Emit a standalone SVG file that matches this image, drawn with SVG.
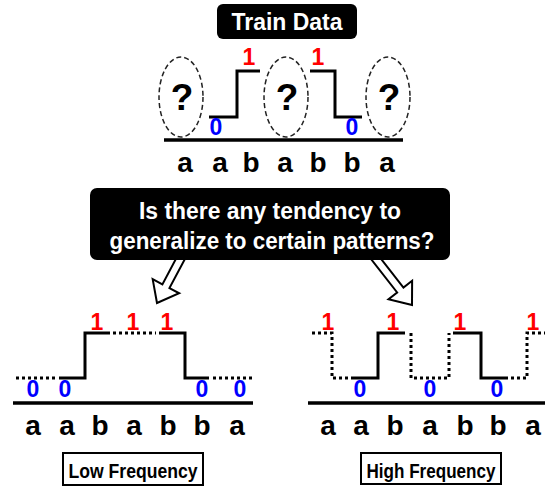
<svg xmlns="http://www.w3.org/2000/svg" width="545" height="486" viewBox="0 0 545 486">
<style>
.bg{fill:#fff}
.bx{fill:#000}
.wt{fill:#fff;font-family:"Liberation Sans",Arial,sans-serif;font-weight:bold;text-anchor:middle}
.lt{fill:#000;font-family:"Liberation Sans",Arial,sans-serif;font-weight:bold;text-anchor:middle;font-size:28px}
.one{fill:#ff0000;font-family:"Liberation Sans",Arial,sans-serif;font-weight:bold;text-anchor:middle;font-size:23px}
.zero{fill:#0000ff;font-family:"Liberation Sans",Arial,sans-serif;font-weight:bold;text-anchor:middle;font-size:23px}
.q{fill:#000;font-family:"Liberation Sans",Arial,sans-serif;font-weight:bold;text-anchor:middle;font-size:37px}
.base{stroke:#000;stroke-width:3.5;fill:none}
.sol{stroke:#000;stroke-width:3;fill:none;stroke-linejoin:miter}
.dot{stroke:#000;stroke-width:3;fill:none;stroke-dasharray:3 3}
.ell{stroke:#222;stroke-width:1.5;fill:none;stroke-dasharray:5 3}
.arr{fill:#fff;stroke:#000;stroke-width:2;stroke-linejoin:miter}
.lb{fill:#fff;stroke:#000;stroke-width:2}
.lbt{fill:#000;font-family:"Liberation Sans",Arial,sans-serif;font-weight:bold;text-anchor:middle;font-size:21px}
</style>
<rect class="bg" x="0" y="0" width="545" height="486"/>

<g id="connectors">
  <polygon class="arr" transform="translate(157,303) rotate(28)" points="0,0 -15,-19 -4,-19 -4,-62 4,-62 4,-19 15,-19"/>
  <polygon class="arr" transform="translate(412,305) rotate(-38)" points="0,0 -15,-19 -4,-19 -4,-68 4,-68 4,-19 15,-19"/>
</g>

<g id="train-data">
  <rect class="bx" x="217" y="4" width="140" height="35" rx="6"/>
  <text class="wt" x="287" y="30" font-size="23" textLength="111" lengthAdjust="spacingAndGlyphs">Train Data</text>
</g>

<g id="top-wave">
  <ellipse class="ell" cx="181" cy="97" rx="22" ry="40"/>
  <ellipse class="ell" cx="286" cy="97" rx="22" ry="40"/>
  <ellipse class="ell" cx="388" cy="97" rx="22" ry="40"/>
  <text class="q" x="182" y="110">?</text>
  <text class="q" x="287" y="110">?</text>
  <text class="q" x="389" y="110">?</text>
  <path class="sol" d="M209,117 H237 V71 H260"/>
  <path class="sol" d="M310,71 H335 V117 H362"/>
  <text class="one" x="249" y="65">1</text>
  <text class="one" x="318" y="65">1</text>
  <text class="zero" x="216" y="135">0</text>
  <text class="zero" x="352" y="135">0</text>
  <line class="base" x1="164" y1="140" x2="403" y2="140"/>
  <text class="lt" x="185" y="172">a</text>
  <text class="lt" x="220" y="172">a</text>
  <text class="lt" x="251" y="172">b</text>
  <text class="lt" x="285" y="172">a</text>
  <text class="lt" x="318" y="172">b</text>
  <text class="lt" x="352" y="172">b</text>
  <text class="lt" x="387" y="172">a</text>
</g>

<g id="question">
  <rect class="bx" x="90" y="188" width="360" height="72" rx="7"/>
  <text class="wt" x="270" y="219" font-size="23" textLength="262" lengthAdjust="spacingAndGlyphs">Is there any tendency to</text>
  <text class="wt" x="272" y="249" font-size="23" textLength="325" lengthAdjust="spacingAndGlyphs">generalize to certain patterns?</text>
</g>

<g id="low-frequency">
  <path class="dot" d="M16,378 H58"/>
  <path class="sol" d="M59,378 H85 V333 H110"/>
  <path class="dot" d="M113,333 H156"/>
  <path class="sol" d="M159,333 H185 V378 H209"/>
  <path class="dot" d="M213,378 H254"/>
  <text class="one" x="97" y="330">1</text>
  <text class="one" x="133" y="330">1</text>
  <text class="one" x="167" y="330">1</text>
  <text class="zero" x="33" y="397">0</text>
  <text class="zero" x="65" y="397">0</text>
  <text class="zero" x="202" y="397">0</text>
  <text class="zero" x="240" y="397">0</text>
  <line class="base" x1="13" y1="403" x2="253" y2="403"/>
  <text class="lt" x="33" y="435">a</text>
  <text class="lt" x="67" y="435">a</text>
  <text class="lt" x="100" y="435">b</text>
  <text class="lt" x="134" y="435">a</text>
  <text class="lt" x="168" y="435">b</text>
  <text class="lt" x="202" y="435">b</text>
  <text class="lt" x="237" y="435">a</text>
  <rect class="lb" x="63" y="453" width="140" height="32"/>
  <text class="lbt" x="133" y="478" textLength="129" lengthAdjust="spacingAndGlyphs">Low Frequency</text>
</g>

<g id="high-frequency">
  <path class="dot" d="M312,333 H332 V378 H352"/>
  <path class="sol" d="M352,378 H378 V333 H405"/>
  <path class="dot" d="M411,333 V378 H449 V333"/>
  <path class="sol" d="M453,333 H481 V378 H505"/>
  <path class="dot" d="M505,378 H527 V333 H545"/>
  <text class="one" x="328" y="330">1</text>
  <text class="one" x="393" y="330">1</text>
  <text class="one" x="460" y="330">1</text>
  <text class="one" x="533" y="330">1</text>
  <text class="zero" x="360" y="397">0</text>
  <text class="zero" x="430" y="397">0</text>
  <text class="zero" x="497" y="397">0</text>
  <line class="base" x1="308" y1="403" x2="545" y2="403"/>
  <text class="lt" x="328" y="435">a</text>
  <text class="lt" x="361" y="435">a</text>
  <text class="lt" x="395" y="435">b</text>
  <text class="lt" x="430" y="435">a</text>
  <text class="lt" x="465" y="435">b</text>
  <text class="lt" x="498" y="435">b</text>
  <text class="lt" x="533" y="435">a</text>
  <rect class="lb" x="361" y="453" width="140" height="31"/>
  <text class="lbt" x="431" y="478" textLength="129" lengthAdjust="spacingAndGlyphs">High Frequency</text>
</g>
</svg>
